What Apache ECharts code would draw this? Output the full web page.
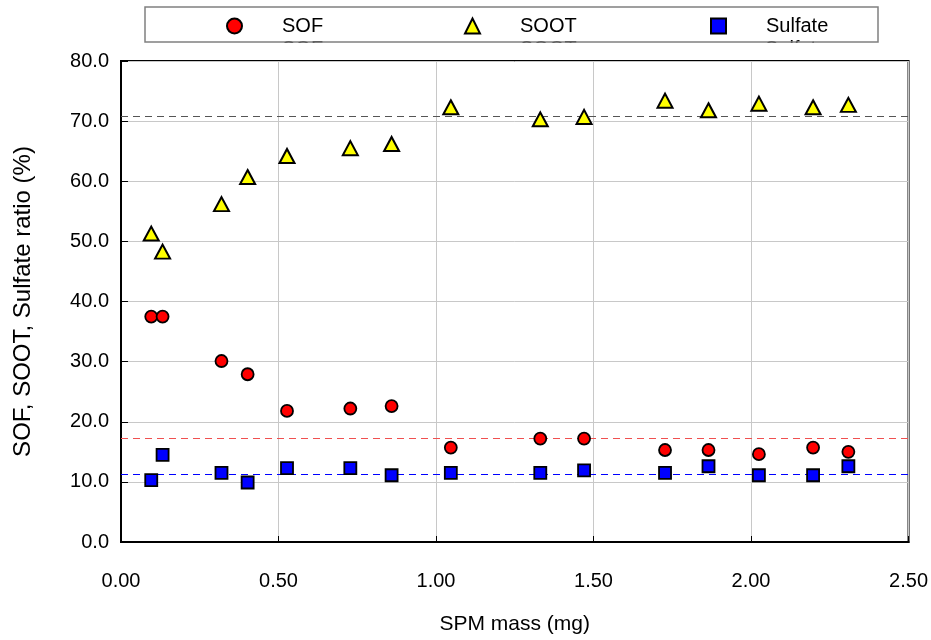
<!DOCTYPE html>
<html>
<head>
<meta charset="utf-8">
<script src="https://cdn.jsdelivr.net/npm/echarts@6/dist/echarts.min.js"></script>
<style>
  html, body { margin: 0; padding: 0; background: #fff; }
  #main { width: 931px; height: 640px; }
</style>
</head>
<body>
<div id="main"></div>
<script>
// SPM mass (mg), shared by all three series
var massX = [0.096, 0.132, 0.319, 0.402, 0.527, 0.728, 0.859, 1.047, 1.331, 1.470, 1.727, 1.865, 2.025, 2.197, 2.309];
var sofRatio = [37.5, 37.5, 30.1, 27.9, 21.8, 22.2, 22.6, 15.7, 17.2, 17.2, 15.3, 15.3, 14.6, 15.7, 15.0];
var sootRatio = [51.3, 48.3, 56.2, 60.7, 64.2, 65.5, 66.2, 72.3, 70.3, 70.7, 73.4, 71.8, 72.9, 72.3, 72.7];
var sulfateRatio = [10.3, 14.5, 11.5, 9.9, 12.3, 12.3, 11.1, 11.5, 11.5, 11.9, 11.5, 12.6, 11.1, 11.1, 12.6];
// average lines
var sofMean = 17.3;
var sootMean = 70.8;
var sulfateMean = 11.25;
var seriesNames = ['SOF', 'SOOT', 'Sulfate'];

function pairs(ys) {
    var out = [];
    for (var i = 0; i < massX.length; i++) out.push([massX[i], ys[i]]);
    return out;
}

var font = 'Liberation Sans, Arial, sans-serif';
var myChart = echarts.init(document.getElementById('main'));

function meanLine(value, color) {
    return {
        silent: true,
        symbol: 'none',
        label: { show: false },
        z: 1,
        lineStyle: { color: color, type: [7, 5], width: 1.2 },
        data: [{ yAxis: value }]
    };
}

function legendAt(name, left) {
    return {
        data: [name],
        left: left,
        top: 11,
        itemWidth: 15,
        itemHeight: 15,
        itemGap: 0,
        selectedMode: false,
        textStyle: { fontFamily: font, fontSize: 20, color: '#000', padding: [0, 0, 0, 35] }
    };
}

var option = {
    animation: false,
    backgroundColor: '#fff',
    graphic: [
        { type: 'rect', shape: { x: 145, y: 7, width: 733, height: 35 }, style: { fill: '#fff' }, z: -1 },
        { type: 'text', left: 282, top: 39, style: { text: 'SOF', font: '20px ' + font, fill: '#000' }, z: 1 },
        { type: 'text', left: 520, top: 39, style: { text: 'SOOT', font: '20px ' + font, fill: '#000' }, z: 1 },
        { type: 'text', left: 765, top: 39, style: { text: 'Sulfate', font: '20px ' + font, fill: '#000' }, z: 1 },
        { type: 'rect', shape: { x: 130, y: 43, width: 760, height: 16 }, style: { fill: '#fff' }, z: 2 },
        { type: 'rect', shape: { x: 145, y: 7, width: 733, height: 35 }, style: { fill: 'none', stroke: '#808080', lineWidth: 1.5 }, z: 3 }
    ],
    legend: [legendAt('SOF', 221), legendAt('SOOT', 459), legendAt('Sulfate', 705)],
    grid: {
        left: 121, top: 61, right: 20, bottom: 98,
        show: true, borderColor: '#000', borderWidth: 2
    },
    xAxis: {
        type: 'value',
        min: 0, max: 2.5, interval: 0.5,
        name: 'SPM mass (mg)',
        nameLocation: 'middle',
        nameGap: 72,
        nameTextStyle: { fontFamily: font, fontSize: 21, color: '#000' },
        axisLine: { lineStyle: { color: '#000', width: 2 } },
        axisTick: { inside: true, length: 6, lineStyle: { color: '#000' } },
        axisLabel: {
            fontFamily: font, fontSize: 20, color: '#000', margin: 29,
            formatter: function (v) { return v.toFixed(2); }
        },
        splitLine: { show: true, lineStyle: { color: '#c8c8c8', width: 1 } }
    },
    yAxis: {
        type: 'value',
        min: 0, max: 80, interval: 10,
        name: 'SOF, SOOT, Sulfate ratio (%)',
        nameLocation: 'middle',
        nameGap: 86,
        nameTextStyle: { fontFamily: font, fontSize: 24, color: '#000' },
        axisLine: { lineStyle: { color: '#000', width: 2 } },
        axisTick: { inside: true, length: 7, lineStyle: { color: '#000' } },
        axisLabel: {
            fontFamily: font, fontSize: 20, color: '#000', margin: 12,
            formatter: function (v) { return v.toFixed(1); }
        },
        splitLine: { show: true, lineStyle: { color: '#c8c8c8', width: 1 } }
    },
    series: [
        {
            name: seriesNames[0],
            type: 'scatter',
            symbol: 'circle',
            symbolSize: 12,
            itemStyle: { color: '#ff0000', borderColor: '#000', borderWidth: 1.8, opacity: 1 },
            data: pairs(sofRatio),
            markLine: meanLine(sofMean, '#f05050'),
            z: 3
        },
        {
            name: seriesNames[1],
            type: 'scatter',
            symbol: 'triangle',
            symbolSize: [15, 14],
            itemStyle: { color: '#ffff00', borderColor: '#000', borderWidth: 2, opacity: 1 },
            data: pairs(sootRatio),
            markLine: meanLine(sootMean, '#555555'),
            z: 3
        },
        {
            name: seriesNames[2],
            type: 'scatter',
            symbol: 'rect',
            symbolSize: 12,
            itemStyle: { color: '#0000ff', borderColor: '#000', borderWidth: 1.8, opacity: 1 },
            data: pairs(sulfateRatio),
            markLine: meanLine(sulfateMean, '#0000ff'),
            z: 3
        }
    ]
};
myChart.setOption(option);
</script>
</body>
</html>
